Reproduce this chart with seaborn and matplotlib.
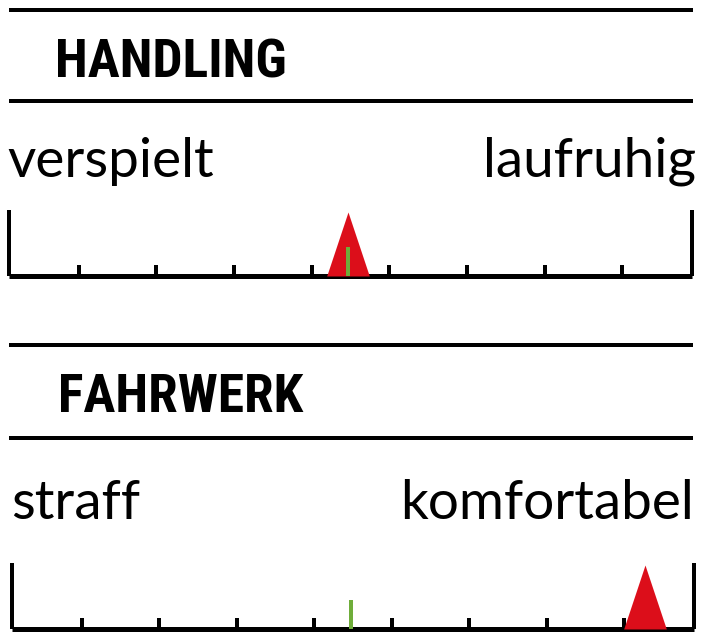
import numpy as np
import pandas as pd
import seaborn as sns
import matplotlib
matplotlib.use("Agg")
from matplotlib import pyplot as plt
from matplotlib import font_manager
from matplotlib.lines import Line2D
from matplotlib.path import Path

sns.set_theme(style="white")

# data
categories = ["HANDLING", "FAHRWERK"]
left_labels = ["verspielt", "straff"]
right_labels = ["laufruhig", "komfortabel"]
rating = [4.47, 8.27]       # red triangle
reference = [4.47, 4.47]    # green marker
scale_ticks = [1, 2, 3, 4, 5, 6, 7, 8]
scale_ends = [0.1, 8.9]

avail = {f.name for f in font_manager.fontManager.ttflist}
title_font = next((n for n in ["Roboto Condensed", "Liberation Sans Narrow"] if n in avail), "DejaVu Sans")
label_font = "Lato" if "Lato" in avail else "DejaVu Sans"

W, H = 712, 639
fig = plt.figure(figsize=(W / 100, H / 100), dpi=100)


def fy(y):
    # top-origin pixel -> figure fraction
    return (H - y) / H


def px2pt(p):
    return p * 72 / 100


red = "#dc0e1a"
green = "#6fad3a"
tri = Path([(-1 / 3, 0), (1 / 3, 0), (0, 1), (-1 / 3, 0)],
           [Path.MOVETO, Path.LINETO, Path.LINETO, Path.CLOSEPOLY])

# panel layout (pixels, top origin)
panels = [
    dict(rules=(10, 101), title_y=77, title_x=55, label_y=177, lx=7, rx=696,
         x0=9, x1=692, base=276),
    dict(rules=(345, 438), title_y=412, title_x=58, label_y=519, lx=11, rx=694,
         x0=12, x1=694, base=629),
]

df = pd.DataFrame({"cat": categories, "rating": rating, "reference": reference})

for i, p in enumerate(panels):
    for ry in p["rules"]:
        fig.add_artist(Line2D([9 / W, 693 / W], [fy(ry), fy(ry)],
                              color="black", lw=px2pt(4), solid_capstyle="butt"))
    fig.text(p["title_x"] / W, fy(p["title_y"]), categories[i], color="black",
             family=[title_font, "DejaVu Sans"], fontstretch="condensed",
             fontweight="bold", fontsize=38.5, va="baseline", ha="left")
    fig.text(p["lx"] / W, fy(p["label_y"]), left_labels[i], color="black",
             family=[label_font, "DejaVu Sans"], fontsize=39.5, va="baseline", ha="left")
    fig.text(p["rx"] / W, fy(p["label_y"]), right_labels[i], color="black",
             family=[label_font, "DejaVu Sans"], fontsize=39.5, va="baseline", ha="right")

    ax = fig.add_axes([p["x0"] / W, fy(p["base"]), (p["x1"] - p["x0"]) / W, 66 / H])

    ax.vlines(scale_ticks, 0, 0.17, color="black", lw=px2pt(4), capstyle="butt",
              clip_on=False, zorder=1)
    ax.vlines(scale_ends, 0, 1, color="black", lw=px2pt(4), clip_on=False, zorder=1)
    ax.hlines(0, *scale_ends, color="black", lw=px2pt(5), clip_on=False, zorder=1)

    row = df.iloc[[i]]
    sns.scatterplot(data=row, x="rating", y=[0], marker=tri, s=(2 * px2pt(64)) ** 2,
                    color=red, linewidth=0, ax=ax, clip_on=False, zorder=3, legend=False)
    ax.vlines(row["reference"], 0, 0.44, color=green, lw=px2pt(4), capstyle="butt",
              clip_on=False, zorder=4)
    ax.set_xlim(*scale_ends)
    ax.set_ylim(0, 1)
    ax.axis("off")

fig.savefig("out.png", dpi=100)
